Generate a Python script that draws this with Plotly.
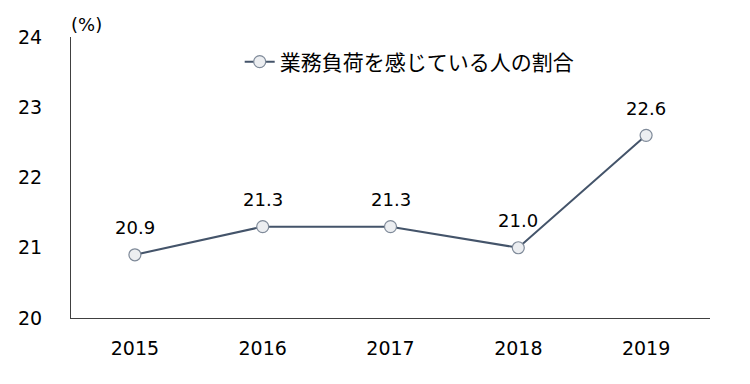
import plotly.graph_objects as go

years = ["2015", "2016", "2017", "2018", "2019"]
values = [20.9, 21.3, 21.3, 21.0, 22.6]
labels = ["20.9", "21.3", "21.3", "21.0", "22.6"]
series_name = "業務負荷を感じている人の割合"
y_ticks = [20, 21, 22, 23, 24]

FONT = "DejaVu Sans, Noto Sans CJK JP, sans-serif"

fig = go.Figure()
fig.add_trace(go.Scatter(
    x=years, y=values, name=series_name, mode="lines+markers",
    line=dict(color="#44546A", width=2),
    marker=dict(size=12, color="#ECEEF1", line=dict(color="#7F8A99", width=1.2)),
    showlegend=True,
))

annotations = [dict(text="(%)", x=0, y=1, xref="paper", yref="paper",
                    xanchor="left", yanchor="bottom", showarrow=False,
                    font=dict(size=18), yshift=0, xshift=-2)]
for i, (yv, t) in enumerate(zip(values, labels)):
    annotations.append(dict(x=i, y=yv, text=t, xref="x", yref="y",
                            showarrow=False, yshift=27, xanchor="center",
                            yanchor="middle", font=dict(size=18, color="#000000")))

fig.update_layout(
    width=742, height=376,
    margin=dict(l=63, r=40, t=29, b=66),
    paper_bgcolor="white", plot_bgcolor="white",
    font=dict(family=FONT, size=19, color="#000000"),
    legend=dict(x=0.264, y=0.911, xanchor="left", yanchor="middle",
                orientation="h", font=dict(size=21, family="Noto Sans CJK JP, sans-serif"),
                bgcolor="rgba(0,0,0,0)"),
    xaxis=dict(type="category", range=[-0.5, 4.5], showline=True, linecolor="#404040",
               linewidth=1, ticks="", showgrid=False, zeroline=False, automargin=False,
               ticklabelstandoff=13, tickfont=dict(size=19)),
    yaxis=dict(range=[20, 24], tickvals=y_ticks, showline=True, linecolor="#404040",
               linewidth=1, ticks="", showgrid=False, zeroline=False, automargin=False,
               ticklabelstandoff=24, tickfont=dict(size=19)),
    annotations=annotations,
)

fig.write_html("out.html")
